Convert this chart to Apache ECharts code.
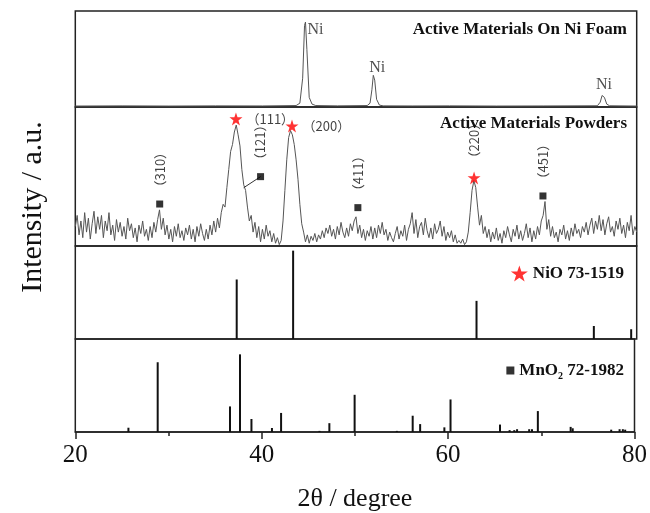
<!DOCTYPE html>
<html>
<head>
<meta charset="utf-8">
<script src="https://cdn.jsdelivr.net/npm/echarts@6/dist/echarts.min.js"></script>
<style>html,body{margin:0;padding:0;background:#fff;}#c{width:650px;height:513px;}</style>
</head>
<body>
<div id="c"></div>
<script>
// ---- data ----
const xMin = 20, xMax = 80, xTickStep = 20;
const xTitle = '2θ / degree';
const yTitle = 'Intensity / a.u.';
const panelTitles = ['Active Materials On Ni Foam', 'Active Materials Powders'];

// Panel 1: Active materials on Ni foam (relative intensity 0-100)
const niFoamX = [20, 25, 30, 35, 40, 43.6, 44.0, 44.3, 44.5, 44.6, 44.75, 45.0, 45.3, 45.7, 48, 51.2, 51.5, 51.7, 51.85, 52.0, 52.2, 52.5, 52.9, 56, 60, 65, 70, 75.8, 76.1, 76.3, 76.4, 76.55, 76.8, 77.1, 80];
const niFoamY = [1, 1.2, 1, 1.2, 1.1, 1.5, 4, 30, 85, 88.5, 60, 10, 3, 1.5, 1.2, 1.5, 4, 18, 33, 28, 8, 2, 1.2, 1.1, 1.2, 1, 1.1, 1.3, 5, 12, 13.5, 10, 3, 1.3, 1];
const niPeakX = [44.6, 51.85, 76.4];
const niPeakY = [88.5, 33, 13.5];
const niPeakLabel = ['Ni', 'Ni', 'Ni'];

// Panel 2: Active materials powders, sampled every 0.2 degree from 20 to 80
const powderStart = 20, powderStep = 0.2;
const powderY = [
  14, 22, 8, 18, 6,
  24, 10, 20, 5, 16,
  25, 9, 21, 12, 22,
  6, 18, 11, 24, 8,
  15, 4, 19, 10, 17,
  7, 14, 5, 20, 11,
  16, 6, 13, 3, 15,
  9, 18, 7, 12, 4,
  14, 6, 17, 10, 19,
  26, 12, 20, 8, 15,
  5, 12, 3, 14, 7,
  16, 6, 11, 4, 13,
  8, 15, 5, 12, 3,
  14, 7, 16, 9, 4,
  12, 5, 15, 8, 18,
  10, 20, 13, 24, 30,
  28, 42, 55, 68, 73,
  82, 87, 80, 72, 55,
  44, 40, 28, 18, 22,
  10, 17, 6, 14, 3,
  12, 5, 15, 7, 11,
  3, 9, 2, 6, 1,
  4, 18, 40, 62, 78,
  83, 80, 73, 62, 48,
  30, 16, 10, 3, 8,
  2, 7, 4, 9, 3,
  8, 5, 11, 6, 13,
  9, 15, 7, 12, 5,
  14, 8, 17, 10, 6,
  13, 7, 16, 11, 18,
  21, 9, 15, 6, 12,
  4, 11, 7, 14, 5,
  13, 6, 15, 9, 17,
  8, 12, 4, 10, 6,
  3, 9, 14, 5, 11,
  7, 15, 4, 12, 16,
  24, 9, 19, 6, 14,
  17, 8, 20, 11, 6,
  13, 5, 16, 9, 12,
  18, 7, 14, 4, 10,
  6, 11, 3, 8, 2,
  4, 2, 5, 1, 3,
  10, 24, 40, 47, 42,
  28, 15, 22, 9, 14,
  6, 12, 3, 10, 5,
  13, 4, 9, 2, 11,
  6, 14, 8, 3, 12,
  7, 15, 5, 11, 4,
  9, 16, 6, 13, 3,
  11, 5, 14, 8, 18,
  22, 32, 12, 19, 7,
  14, 6, 10, 3, 12,
  8, 15, 5, 11, 4,
  13, 7, 16, 9, 12,
  6, 14, 10, 17, 8,
  15, 20, 9, 18, 12,
  22, 11, 19, 8, 16,
  21, 10, 14, 7, 18,
  12, 20, 9, 15, 6,
  17, 11, 22, 8, 14,
  10
];

// Phase markers on the powder pattern
const nioName = 'NiO 73-1519';
const mno2Name = 'MnO2 72-1982';
const nioMarkX = [37.17, 43.16, 62.62];
const nioMarkY = [91.4, 86.3, 49];
const nioHkl = ['（111）', '（200）', '（220）'];
const mno2MarkX = [29.02, 39.8, 50.2, 69.98];
const mno2MarkY = [30.2, 49.9, 27.6, 36];
const mno2Hkl = ['（310）', '（121）', '（411）', '（451）'];
const leaderX = [39.8, 37.99];
const leaderY = [49.9, 41.9];

// Panel 3: NiO reference (JCPDS 73-1519)
const nioRefX = [37.25, 43.28, 62.88, 75.42, 79.41];
const nioRefY = [64, 95, 41, 14, 10.5];

// Panel 4: MnO2 reference (JCPDS 72-1982)
const mno2RefX = [25.7, 28.84, 36.6, 37.67, 38.9, 41.1, 42.08, 46.2, 47.26, 49.97, 54.5, 56.2, 57.0, 59.6, 60.26, 65.57, 66.6, 67.1, 67.4, 68.7, 69.0, 69.63, 73.15, 73.37, 77.5, 78.4, 78.75, 79.0];
const mno2RefY = [4.6, 75, 27.5, 83.5, 14, 4.3, 20.5, 1.2, 9.5, 40, 1.2, 17.5, 8.5, 5, 35, 8, 2, 2, 3, 3, 3, 22.5, 5.5, 4, 2.5, 3, 3, 2.5];

// ---- chart ----
const zip = (a, b) => a.map((v, i) => [v, b[i]]);
const serif = 'Liberation Serif';
const cjk = 'Noto Sans CJK SC';
const starPath = 'path://M12,0 L14.9,8.6 L24,8.6 L16.6,14 L19.4,22.8 L12,17.5 L4.6,22.8 L7.4,14 L0,8.6 L9.1,8.6 Z';

const gridBase = { left: 75.3, right: 13.3, show: true, borderColor: '#222', borderWidth: 1.5 };
const grids = [
  Object.assign({ top: 11, height: 96 }, gridBase),
  Object.assign({ top: 107, height: 139 }, gridBase),
  Object.assign({ top: 246, height: 93 }, gridBase),
  Object.assign({ top: 339, height: 93.5 }, gridBase)
];

const xAxes = grids.map((g, i) => {
  const last = i === grids.length - 1;
  return {
    type: 'value', gridIndex: i, min: xMin, max: xMax, interval: xTickStep,
    axisLine: { show: last, lineStyle: { color: '#222', width: 1.5 } },
    axisTick: { show: last, length: 7, lineStyle: { color: '#222', width: 1.5 } },
    minorTick: { show: last, splitNumber: 2, length: 4, lineStyle: { color: '#222', width: 1.5 } },
    axisLabel: { show: last, fontFamily: serif, fontSize: 25, color: '#111', margin: 11 },
    splitLine: { show: false },
    name: last ? xTitle : '',
    nameLocation: 'middle', nameGap: 54,
    nameTextStyle: { fontFamily: serif, fontSize: 26, color: '#111' }
  };
});
const yAxes = grids.map((g, i) => ({ type: 'value', gridIndex: i, min: 0, max: 100, show: false }));

const hklRot = { position: 'top', rotate: 90, align: 'left', verticalAlign: 'middle', distance: 7 };
const hklRight = { position: 'right', distance: 4 };
const hklFont = { fontFamily: cjk, fontSize: 13, color: '#111' };

const nioPts = nioMarkX.map((x, i) => ({
  value: [x, nioMarkY[i]],
  label: Object.assign({ show: true, formatter: nioHkl[i] }, hklFont, i < 2 ? hklRight : hklRot)
}));
const mno2Pts = mno2MarkX.map((x, i) => ({
  value: [x, mno2MarkY[i]],
  label: Object.assign({ show: true, formatter: mno2Hkl[i] }, hklFont, hklRot)
}));
const niLabelPos = [
  { position: 'right', distance: 2, offset: [0, 8] },
  { position: 'top', distance: 0, offset: [4, 0] },
  { position: 'top', distance: 1, offset: [1, 0] }
];
const niPts = niPeakX.map((x, i) => ({
  value: [x, niPeakY[i]],
  label: Object.assign({ show: true, formatter: niPeakLabel[i], fontFamily: serif, fontSize: 16, color: '#222' }, niLabelPos[i])
}));

const titleStyle = { fontFamily: serif, fontWeight: 'bold', fontSize: 17, color: '#111' };
const legendText = { fontFamily: serif, fontWeight: 'bold', fontSize: 17, color: '#111',
  rich: { a: { fontFamily: serif, fontWeight: 'bold', fontSize: 17, color: '#111' },
          s: { fontFamily: serif, fontWeight: 'bold', fontSize: 10, color: '#111', padding: [12, 0, 0, 0] } } };

const option = {
  animation: false,
  backgroundColor: '#fff',
  grid: grids,
  xAxis: xAxes,
  yAxis: yAxes,
  title: [
    { text: panelTitles[0], right: 23, top: 21, textStyle: titleStyle, padding: 0 },
    { text: panelTitles[1], right: 23, top: 115, textStyle: titleStyle, padding: 0 }
  ],
  legend: [
    { data: [nioName], right: 26, top: 265, itemWidth: 17, itemHeight: 17, selectedMode: false, padding: 0, textStyle: legendText },
    { data: [mno2Name], right: 26, top: 362, itemWidth: 8, itemHeight: 8, selectedMode: false, padding: 0, textStyle: legendText,
      formatter: () => '{a|MnO}{s|2}{a| 72-1982}' }
  ],
  graphic: [
    { type: 'text', x: 33, y: 207, rotation: Math.PI / 2,
      style: { text: yTitle, font: '30px "Liberation Serif"', fill: '#111', textAlign: 'center', textVerticalAlign: 'middle', align: 'center', verticalAlign: 'middle' } }
  ],
  series: [
    { type: 'line', xAxisIndex: 0, yAxisIndex: 0, data: zip(niFoamX, niFoamY), symbol: 'none', silent: true,
      lineStyle: { color: '#555', width: 1 } },
    { type: 'scatter', xAxisIndex: 0, yAxisIndex: 0, data: niPts, symbolSize: 0, silent: true },
    { type: 'line', xAxisIndex: 1, yAxisIndex: 1, data: powderY.map((v, i) => [powderStart + i * powderStep, v]),
      symbol: 'none', silent: true, lineStyle: { color: '#555', width: 1 } },
    { type: 'line', xAxisIndex: 1, yAxisIndex: 1, data: zip(leaderX, leaderY), symbol: 'none', silent: true,
      lineStyle: { color: '#333', width: 1 } },
    { type: 'scatter', name: nioName, xAxisIndex: 1, yAxisIndex: 1, data: nioPts, symbol: starPath, symbolSize: 13,
      itemStyle: { color: '#ff0000' }, silent: true, z: 5 },
    { type: 'scatter', name: mno2Name, xAxisIndex: 1, yAxisIndex: 1, data: mno2Pts, symbol: 'rect', symbolSize: 7,
      itemStyle: { color: '#000' }, silent: true, z: 5 },
    { type: 'bar', xAxisIndex: 2, yAxisIndex: 2, data: zip(nioRefX, nioRefY), barWidth: 2, silent: true,
      itemStyle: { color: '#111' } },
    { type: 'bar', xAxisIndex: 3, yAxisIndex: 3, data: zip(mno2RefX, mno2RefY), barWidth: 2, silent: true,
      itemStyle: { color: '#111' } }
  ]
};

const chart = echarts.init(document.getElementById('c'), null, { renderer: 'canvas' });
chart.setOption(option);
</script>
</body>
</html>
